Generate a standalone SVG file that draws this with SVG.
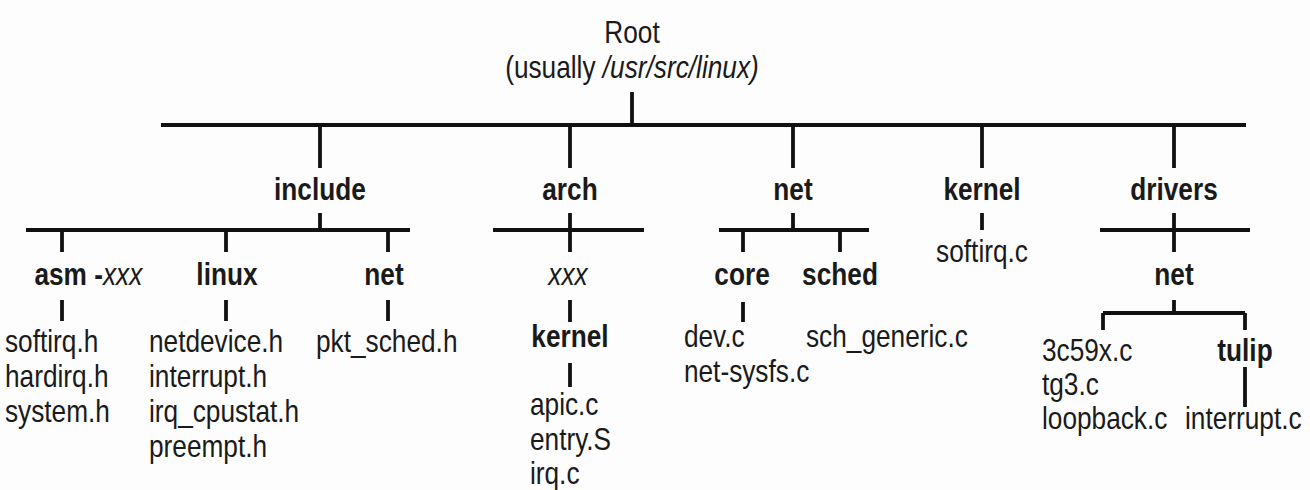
<svg xmlns="http://www.w3.org/2000/svg" width="1310" height="490" viewBox="0 0 1310 490">
<style>
text{font-family:"Liberation Sans",Arial,sans-serif;font-size:32px;fill:#1a1a1a}
.b{font-weight:bold}
.i{font-style:italic}
.c{text-anchor:middle}
.ln{stroke:#111;stroke-width:3.8;fill:none}
</style>
<rect width="1310" height="490" fill="#fdfdfd"/>
<g id="connectors" class="ln">
<path d="M632 92V125M161 125H1246"/>
<path d="M320 125V168M570 125V168M793 125V168M982 125V168M1174 125V168"/>
<path d="M320 213V230M26 230H410M62 230V252M226 230V252M388 230V252"/>
<path d="M570 213V252M493 230H644"/>
<path d="M793 213V230M719 230H869M743 230V252M840 230V252"/>
<path d="M982 213V230"/>
<path d="M1174 213V252M1100 230H1250"/>
<path d="M62 300V321M226 300V321M388 300V321M570 300V322M743 302V322"/>
<path d="M570 363V387"/>
<path d="M1174 300V313M1103 313H1245M1103 313V330M1245 313V330M1245 367V407"/>
</g>
<g id="root" transform="scale(0.82 1)"><text class="c" x="770.7" y="43">Root</text><text class="c" x="770.7" y="78">(usually <tspan class="i">/usr/src/linux)</tspan></text></g>
<g id="include" transform="scale(0.82 1)"><text class="b c" x="390.2" y="200">include</text></g>
<g id="arch" transform="scale(0.82 1)"><text class="b c" x="695.1" y="200">arch</text></g>
<g id="net" transform="scale(0.82 1)"><text class="b c" x="967.1" y="200">net</text></g>
<g id="kernel" transform="scale(0.82 1)"><text class="b c" x="1197.6" y="200">kernel</text><text class="c" x="1197.6" y="262">softirq.c</text></g>
<g id="drivers" transform="scale(0.82 1)"><text class="b c" x="1431.7" y="200">drivers</text></g>
<g id="asm-xxx" transform="scale(0.82 1)"><text x="42" y="285"><tspan class="b">asm -</tspan><tspan class="i">xxx</tspan></text>
<text x="6.1" y="352">softirq.h</text><text x="6.1" y="387">hardirq.h</text><text x="6.1" y="422">system.h</text></g>
<g id="include-linux" transform="scale(0.82 1)"><text class="b c" x="276.8" y="285">linux</text>
<text x="181.7" y="352">netdevice.h</text><text x="181.7" y="387">interrupt.h</text><text x="181.7" y="422">irq_cpustat.h</text><text x="181.7" y="457">preempt.h</text></g>
<g id="include-net" transform="scale(0.82 1)"><text class="b c" x="468.3" y="285">net</text><text x="385.4" y="352">pkt_sched.h</text></g>
<g id="arch-xxx" transform="scale(0.82 1)"><text class="i c" x="692.7" y="285">xxx</text></g>
<g id="arch-xxx-kernel" transform="scale(0.82 1)"><text class="b c" x="695.1" y="347">kernel</text>
<text x="646.3" y="415">apic.c</text><text x="646.3" y="450">entry.S</text><text x="646.3" y="484">irq.c</text></g>
<g id="net-core" transform="scale(0.82 1)"><text class="b c" x="904.9" y="285">core</text><text x="834.1" y="347">dev.c</text><text x="834.1" y="382">net-sysfs.c</text></g>
<g id="net-sched" transform="scale(0.82 1)"><text class="b c" x="1024.4" y="285">sched</text><text x="982.9" y="347">sch_generic.c</text></g>
<g id="drivers-net" transform="scale(0.82 1)"><text class="b c" x="1431.7" y="285">net</text>
<text x="1270.7" y="361">3c59x.c</text><text x="1270.7" y="395">tg3.c</text><text x="1270.7" y="429">loopback.c</text></g>
<g id="tulip" transform="scale(0.82 1)"><text class="b c" x="1518.3" y="361">tulip</text><text x="1445.1" y="429">interrupt.c</text></g>
</svg>
